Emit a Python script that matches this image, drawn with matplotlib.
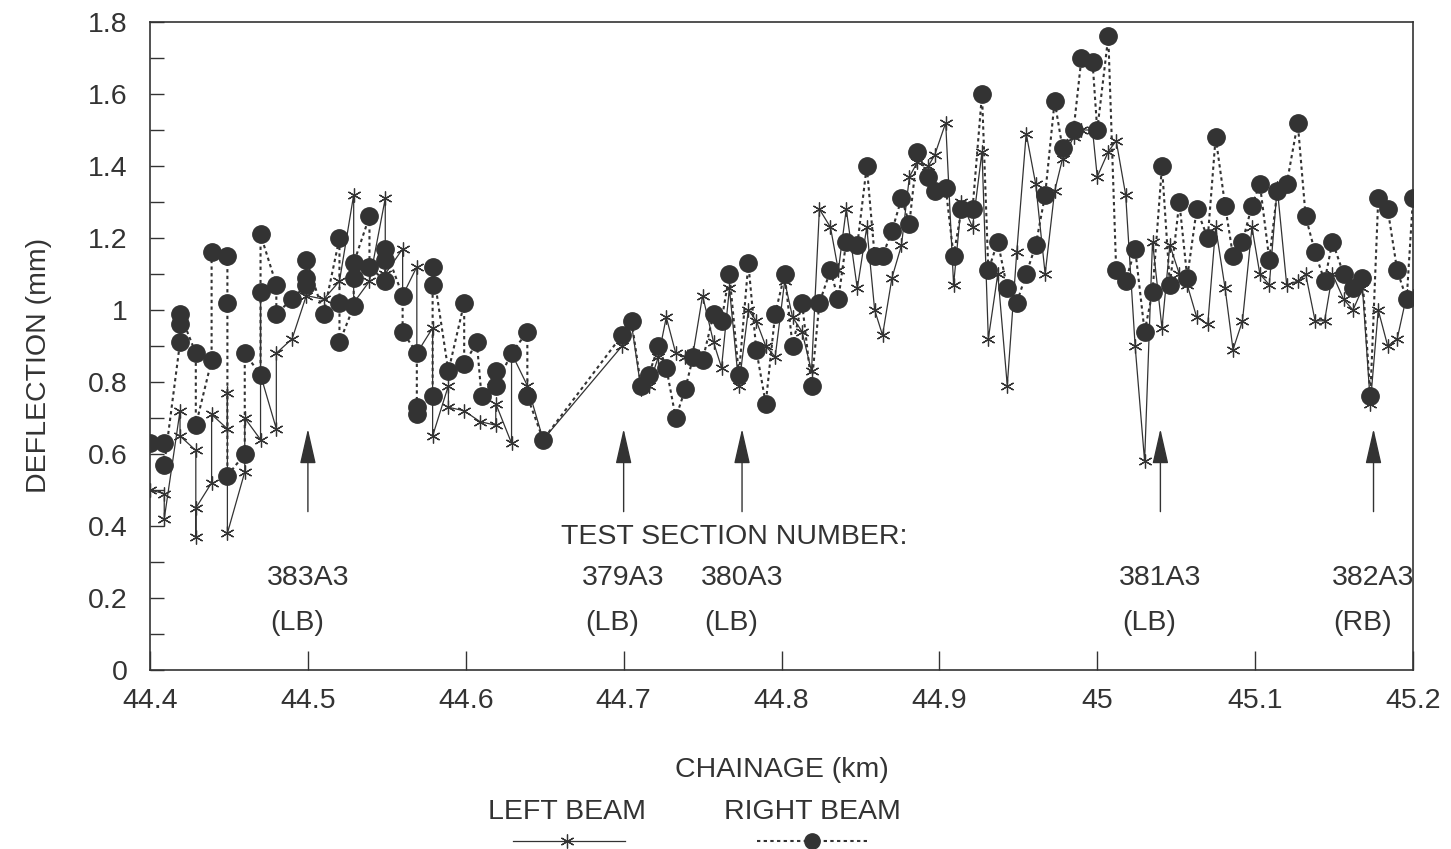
import numpy as np
import matplotlib.pyplot as plt
from matplotlib.lines import Line2D
from matplotlib.ticker import MultipleLocator, FuncFormatter

plt.rcParams["font.family"] = ["Liberation Sans", "DejaVu Sans"]
INK = "#333333"
FS = 20.5

# left beam (asterisks, solid line)
left_km = [44.400, 44.409, 44.409, 44.419, 44.419, 44.429, 44.429, 44.429, 44.439, 44.439,
           44.449, 44.449, 44.449, 44.460, 44.460, 44.470, 44.470, 44.470, 44.480, 44.480,
           44.490, 44.499, 44.510, 44.520, 44.529, 44.529, 44.539, 44.549, 44.549, 44.560,
           44.560, 44.569, 44.569, 44.579, 44.579, 44.589, 44.589, 44.599, 44.609, 44.619,
           44.619, 44.629, 44.629, 44.639, 44.649, 44.699, 44.705, 44.711, 44.716, 44.722,
           44.727, 44.733, 44.739, 44.744, 44.750, 44.757, 44.762, 44.767, 44.773, 44.779,
           44.784, 44.790, 44.796, 44.802, 44.807, 44.813, 44.819, 44.824, 44.831, 44.836,
           44.841, 44.848, 44.854, 44.859, 44.864, 44.870, 44.876, 44.881, 44.886, 44.893,
           44.897, 44.904, 44.909, 44.914, 44.921, 44.927, 44.931, 44.937, 44.943, 44.949,
           44.955, 44.961, 44.967, 44.973, 44.978, 44.985, 44.990, 44.997, 45.000, 45.007,
           45.012, 45.018, 45.024, 45.030, 45.035, 45.041, 45.046, 45.052, 45.057, 45.063,
           45.070, 45.075, 45.081, 45.086, 45.092, 45.098, 45.103, 45.109, 45.114, 45.120,
           45.127, 45.132, 45.138, 45.144, 45.149, 45.156, 45.162, 45.168, 45.173, 45.178,
           45.184, 45.190, 45.196, 45.200]
left_defl = [0.50, 0.49, 0.42, 0.72, 0.65, 0.61, 0.37, 0.45, 0.52, 0.71,
             0.67, 0.77, 0.38, 0.55, 0.70, 0.64, 1.05, 0.82, 0.67, 0.88,
             0.92, 1.04, 1.03, 1.08, 1.32, 1.02, 1.08, 1.31, 1.10, 1.17,
             1.04, 1.12, 0.88, 0.95, 0.65, 0.79, 0.73, 0.72, 0.69, 0.68,
             0.74, 0.63, 0.88, 0.79, 0.64, 0.90, 0.96, 0.78, 0.79, 0.87,
             0.98, 0.88, 0.87, 0.88, 1.04, 0.91, 0.84, 1.06, 0.79, 1.00,
             0.97, 0.90, 0.87, 1.08, 0.98, 0.94, 0.83, 1.28, 1.23, 1.11,
             1.28, 1.06, 1.23, 1.00, 0.93, 1.09, 1.18, 1.37, 1.41, 1.40,
             1.43, 1.52, 1.07, 1.30, 1.23, 1.44, 0.92, 1.10, 0.79, 1.16,
             1.49, 1.35, 1.10, 1.33, 1.42, 1.48, 1.50, 1.50, 1.37, 1.44,
             1.47, 1.32, 0.90, 0.58, 1.19, 0.95, 1.18, 1.10, 1.07, 0.98,
             0.96, 1.23, 1.06, 0.89, 0.97, 1.23, 1.10, 1.07, 1.34, 1.07,
             1.08, 1.10, 0.97, 0.97, 1.10, 1.03, 1.00, 1.06, 0.74, 1.00,
             0.90, 0.92, 1.04, 1.04]

# right beam (filled circles, dotted line)
right_km = [44.400, 44.409, 44.409, 44.419, 44.419, 44.419, 44.429, 44.429, 44.439, 44.439,
            44.449, 44.449, 44.449, 44.460, 44.460, 44.470, 44.470, 44.470, 44.480, 44.480,
            44.490, 44.499, 44.499, 44.499, 44.510, 44.520, 44.520, 44.520, 44.529, 44.529,
            44.529, 44.539, 44.539, 44.549, 44.549, 44.549, 44.560, 44.560, 44.569, 44.569,
            44.569, 44.579, 44.579, 44.579, 44.589, 44.599, 44.599, 44.607, 44.610, 44.619,
            44.619, 44.629, 44.639, 44.639, 44.649, 44.699, 44.705, 44.711, 44.716, 44.722,
            44.727, 44.733, 44.739, 44.744, 44.750, 44.757, 44.762, 44.767, 44.773, 44.779,
            44.784, 44.790, 44.796, 44.802, 44.807, 44.813, 44.819, 44.824, 44.831, 44.836,
            44.841, 44.848, 44.854, 44.859, 44.864, 44.870, 44.876, 44.881, 44.886, 44.893,
            44.897, 44.904, 44.909, 44.914, 44.921, 44.927, 44.931, 44.937, 44.943, 44.949,
            44.955, 44.961, 44.967, 44.973, 44.978, 44.985, 44.990, 44.997, 45.000, 45.007,
            45.012, 45.018, 45.024, 45.030, 45.035, 45.041, 45.046, 45.052, 45.057, 45.063,
            45.070, 45.075, 45.081, 45.086, 45.092, 45.098, 45.103, 45.109, 45.114, 45.120,
            45.127, 45.132, 45.138, 45.144, 45.149, 45.156, 45.162, 45.168, 45.173, 45.178,
            45.184, 45.190, 45.196, 45.200]
right_defl = [0.63, 0.63, 0.57, 0.91, 0.96, 0.99, 0.88, 0.68, 0.86, 1.16,
              1.15, 1.02, 0.54, 0.60, 0.88, 0.82, 1.05, 1.21, 1.07, 0.99,
              1.03, 1.07, 1.09, 1.14, 0.99, 1.20, 1.02, 0.91, 1.01, 1.09,
              1.13, 1.26, 1.12, 1.08, 1.14, 1.17, 1.04, 0.94, 0.88, 0.73,
              0.71, 0.76, 1.07, 1.12, 0.83, 1.02, 0.85, 0.91, 0.76, 0.83,
              0.79, 0.88, 0.94, 0.76, 0.64, 0.93, 0.97, 0.79, 0.82, 0.90,
              0.84, 0.70, 0.78, 0.87, 0.86, 0.99, 0.97, 1.10, 0.82, 1.13,
              0.89, 0.74, 0.99, 1.10, 0.90, 1.02, 0.79, 1.02, 1.11, 1.03,
              1.19, 1.18, 1.40, 1.15, 1.15, 1.22, 1.31, 1.24, 1.44, 1.37,
              1.33, 1.34, 1.15, 1.28, 1.28, 1.60, 1.11, 1.19, 1.06, 1.02,
              1.10, 1.18, 1.32, 1.58, 1.45, 1.50, 1.70, 1.69, 1.50, 1.76,
              1.11, 1.08, 1.17, 0.94, 1.05, 1.40, 1.07, 1.30, 1.09, 1.28,
              1.20, 1.48, 1.29, 1.15, 1.19, 1.29, 1.35, 1.14, 1.33, 1.35,
              1.52, 1.26, 1.16, 1.08, 1.19, 1.10, 1.06, 1.09, 0.76, 1.31,
              1.28, 1.11, 1.03, 1.31]

# test sections
sections = ["383A3", "379A3", "380A3", "381A3", "382A3"]
section_km = [44.5, 44.7, 44.775, 45.04, 45.175]
section_beam = ["(LB)", "(LB)", "(LB)", "(LB)", "(RB)"]

fig = plt.figure(figsize=(14.51, 8.49), dpi=100)
ax = fig.add_axes([0.1034, 0.2108, 0.8704, 0.7633])

ast = (6, 2, 0)
ax.plot(left_km, left_defl, color=INK, lw=0.9, marker=ast, ms=10, mew=0.9)
ax.plot(right_km, right_defl, color=INK, lw=1.5, ls=(0, (1.6, 1.6)),
        marker="o", ms=12.5, mfc=INK, mec=INK)

for name, km, beam in zip(sections, section_km, section_beam):
    ax.annotate("", xy=(km, 0.67), xytext=(km, 0.44),
                arrowprops=dict(arrowstyle="-|>,head_length=2.2,head_width=0.5",
                                color=INK, lw=1.0, shrinkA=0, shrinkB=0))
    ax.text(km, 0.255, name, ha="center", va="center", fontsize=FS, color=INK)
    ax.text(km - 0.007, 0.13, beam, ha="center", va="center", fontsize=FS, color=INK)
ax.text(44.77, 0.37, "TEST SECTION NUMBER:", ha="center", va="center",
        fontsize=FS, color=INK)

ax.set_xlim(44.4, 45.2)
ax.set_ylim(0, 1.8)
ax.xaxis.set_major_locator(MultipleLocator(0.1))
ax.yaxis.set_major_locator(MultipleLocator(0.2))
ax.yaxis.set_minor_locator(MultipleLocator(0.1))
ax.xaxis.set_major_formatter(FuncFormatter(lambda v, p: f"{v:g}"))
ax.yaxis.set_major_formatter(FuncFormatter(lambda v, p: f"{round(v, 1):g}"))
ax.tick_params(axis="x", which="major", direction="in", length=14, width=1,
               labelsize=FS, pad=13, colors=INK)
ax.tick_params(axis="y", which="both", direction="in", length=10, width=1,
               labelsize=FS, pad=16, colors=INK)
for s in ax.spines.values():
    s.set_color(INK)
    s.set_linewidth(1.2)

ax.set_xlabel("CHAINAGE (km)", fontsize=FS, color=INK, labelpad=31)
ax.set_ylabel("DEFLECTION (mm)", fontsize=FS, color=INK)
ax.yaxis.set_label_coords(-0.078, 0.47)

# legend drawn below the x label
fig.text(567 / 1451, 1 - 812 / 849, "LEFT BEAM", ha="center", va="center",
         fontsize=FS, color=INK)
fig.text(812 / 1451, 1 - 812 / 849, "RIGHT BEAM", ha="center", va="center",
         fontsize=FS, color=INK)
ly = 1 - 841 / 849
fig.add_artist(Line2D([513 / 1451, 625 / 1451], [ly, ly], color=INK, lw=0.9))
fig.add_artist(Line2D([567 / 1451], [ly], marker=ast, ms=10, mew=0.9, color=INK))
fig.add_artist(Line2D([757 / 1451, 870 / 1451], [ly, ly], color=INK, lw=1.5,
                      ls=(0, (1.6, 1.6))))
fig.add_artist(Line2D([812 / 1451], [ly], marker="o", ms=11, color=INK))

fig.savefig("out.png", dpi=100, facecolor="white")
